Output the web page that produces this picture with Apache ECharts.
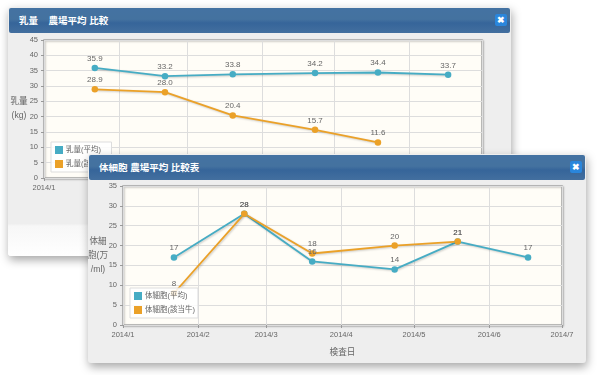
<!DOCTYPE html>
<html>
<head>
<meta charset="utf-8">
<title>農場平均 比較</title>
<script src="https://cdn.jsdelivr.net/npm/echarts@6/dist/echarts.min.js"></script>
<style>
html, body { margin: 0; padding: 0; background: #fff; overflow: hidden; }
body { width: 600px; height: 375px; position: relative; font-family: "Liberation Sans", "Noto Sans CJK JP", sans-serif; }
.dialog { position: absolute; background: #eeeeee; border-radius: 3px; box-shadow: 1px 4px 10px rgba(0,0,0,0.35); }
.head { position: absolute; left: 1px; right: 1px; top: 1px; height: 25px; border-radius: 2px;
    background: linear-gradient(#4472a2 0%, #44729f 45%, #36659a 60%, #436f9f 100%);
    color: #fff; font-size: 9.5px; font-weight: bold; line-height: 25px; padding-left: 10px; }
.close { position: absolute; right: 3px; top: 6px; width: 12px; height: 12px; border-radius: 2px; background: #2a86dc;
    color: #fff; font-size: 9px; line-height: 12px; text-align: center; }
.chart { position: absolute; left: 0; top: 26px; }
#milk { left: 8px; top: 7px; width: 503px; height: 249px; background: linear-gradient(#eeeeee 0%, #eeeeee 87%, #f7f7f7 88%, #ffffff 100%); }
#cell { left: 88px; top: 154px; width: 498px; height: 209px; }
</style>
</head>
<body>
<div class="dialog" id="milk">
    <div class="head">乳量&nbsp;&nbsp;&nbsp;&nbsp;農場平均 比較<span class="close">✖</span></div>
    <div class="chart" id="milk_chart" style="width:503px;height:223px"></div>
</div>
<div class="dialog" id="cell">
    <div class="head">体細胞 農場平均 比較表<span class="close">✖</span></div>
    <div class="chart" id="cell_chart" style="width:498px;height:183px"></div>
</div>
<script>
// test dates (both charts share them)
var test_dates = ['2014-01-22', '2014-02-20', '2014-03-20', '2014-04-23', '2014-05-19', '2014-06-17'];

// milk yield
var milk_avg = [35.9, 33.2, 33.8, 34.2, 34.4, 33.7];
var milk_cow = [28.9, 28.0, 20.4, 15.7, 11.6, null];

// somatic cell count
var cell_avg = [17, 28, 16, 14, 21, 17];
var cell_cow = [8, 28, 18, 20, 21, null];

var month_ticks = ['2014/1', '2014/2', '2014/3', '2014/4', '2014/5', '2014/6', '2014/7'];

var FONT = '"Liberation Sans", "Noto Sans CJK JP", sans-serif';
var BLUE = '#46acc4';
var ORANGE = '#eba128';

var pairs = function(values) {
    return test_dates.map(function(d, i) {
        return [d + 'T00:00:00', values[i]];
    });
};

var lineSeries = function(name, color, values, labelFormat) {
    return {
        name: name,
        type: 'line',
        data: pairs(values),
        symbol: 'circle',
        symbolSize: 6.5,
        lineStyle: { color: color, width: 1.8, shadowColor: 'rgba(0,0,0,0.2)', shadowBlur: 2, shadowOffsetX: 1, shadowOffsetY: 1 },
        itemStyle: { color: color },
        label: {
            show: true, position: 'top', distance: 2, color: '#666', fontSize: 8, fontFamily: FONT,
            formatter: function(p) { return labelFormat(p.value[1]); }
        }
    };
};

var drawChart = function(dom_id, cfg) {
    var chart = echarts.init(document.getElementById(dom_id));
    chart.setOption({
        animation: false,
        textStyle: { fontFamily: FONT },
        grid: {
            left: cfg.grid[0], top: cfg.grid[1], width: cfg.grid[2], height: cfg.grid[3],
            outerBoundsMode: 'none',
            show: true, backgroundColor: '#fffdf7', borderColor: '#a5a5a5', borderWidth: 1.5,
            shadowColor: 'rgba(0,0,0,0.25)', shadowBlur: 2, shadowOffsetX: 1, shadowOffsetY: 1
        },
        legend: {
            orient: 'vertical', left: cfg.legend[0], top: cfg.legend[1],
            icon: 'rect', itemWidth: 8, itemHeight: 8, itemGap: 6,
            width: cfg.legendWidth,
            padding: [4, 3, 4, 4],
            borderColor: '#dddddd', borderWidth: 1, backgroundColor: 'rgba(255,255,255,0.85)',
            textStyle: { color: '#666', fontSize: 7.5, fontFamily: FONT, padding: [0, 0, 0, -2] },
            data: cfg.legendData
        },
        xAxis: {
            type: 'time',
            min: '2014-01-01T00:00:00',
            max: '2014-07-01T00:00:00',
            minInterval: 28 * 86400000,
            name: cfg.xName,
            nameLocation: 'middle',
            nameGap: 23,
            nameMoveOverlap: false,
            nameTextStyle: { color: '#666', fontSize: 8.6 },
            axisLine: { show: false },
            axisTick: { show: true, length: 3, lineStyle: { color: '#999' } },
            splitLine: { show: true, lineStyle: { color: '#dddddd', width: 1 } },
            axisLabel: {
                color: '#666', fontSize: 7.5, margin: 6, hideOverlap: false, showMinLabel: true, showMaxLabel: true, alignMinLabel: 'center', alignMaxLabel: 'center',
                formatter: function(v) {
                    var d = new Date(v);
                    return month_ticks[d.getMonth()];
                }
            }
        },
        yAxis: {
            type: 'value',
            min: 0, max: cfg.yMax, interval: 5,
            name: cfg.yName,
            nameLocation: 'middle',
            nameRotate: 0,
            nameGap: cfg.yNameGap,
            nameMoveOverlap: false,
            nameTextStyle: { color: '#666', fontSize: 8.6, lineHeight: 14, align: 'center', verticalAlign: 'middle' },
            axisLine: { show: false },
            axisTick: { show: true, length: 3, lineStyle: { color: '#999' } },
            splitLine: { show: true, lineStyle: { color: '#dddddd', width: 1 } },
            axisLabel: { color: '#666', fontSize: 7.5, margin: 6 }
        },
        series: cfg.series
    });
};

var oneDecimal = function(v) { return v.toFixed(1); };
var plain = function(v) { return String(v); };

drawChart('milk_chart', {
    grid: [36, 7, 438, 138],
    legend: [43, 109],
    legendData: ['乳量(平均)', '乳量(該当牛)'],
    xName: '',
    yMax: 45,
    yName: '乳量\n(kg)',
    yNameGap: 25,
    series: [
        lineSeries('乳量(平均)', BLUE, milk_avg, oneDecimal),
        lineSeries('乳量(該当牛)', ORANGE, milk_cow, oneDecimal)
    ]
});

drawChart('cell_chart', {
    grid: [35, 6, 439, 139],
    legend: [42, 108],
    legendData: ['体細胞(平均)', '体細胞(該当牛)'],
    xName: '検査日',
    yMax: 35,
    yName: '体細\n胞(万\n/ml)',
    yNameGap: 25,
    series: [
        lineSeries('体細胞(平均)', BLUE, cell_avg, plain),
        lineSeries('体細胞(該当牛)', ORANGE, cell_cow, plain)
    ]
});
</script>
</body>
</html>
